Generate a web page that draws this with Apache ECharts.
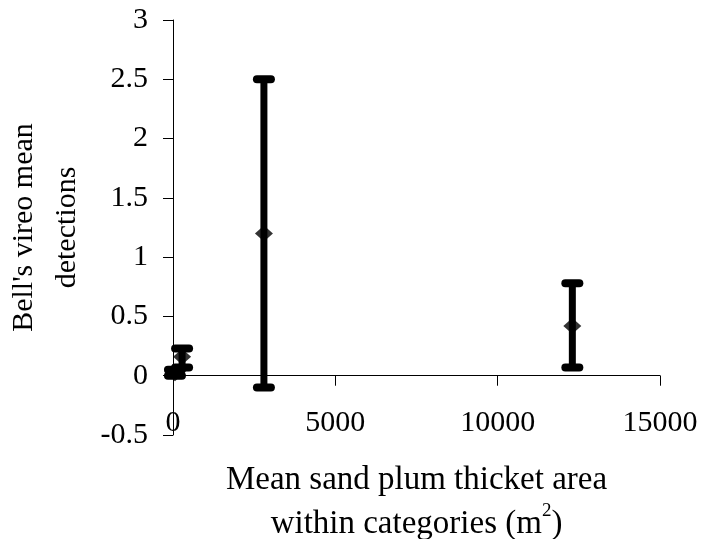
<!DOCTYPE html>
<html>
<head>
<meta charset="utf-8">
<script src="https://cdn.jsdelivr.net/npm/echarts@6/dist/echarts.min.js"></script>
<style>html,body{margin:0;padding:0;background:#fff}#c{width:702px;height:539px}</style>
</head>
<body>
<div id="c"></div>
<script>
var areaX = [60, 280, 2800, 12300];
var meanDet = [0.02, 0.16, 1.2, 0.42];
var lowErr = [0, 0.07, -0.1, 0.07];
var highErr = [0.05, 0.23, 2.5, 0.78];
var xTicks = [0, 5000, 10000, 15000];
var yTicks = [-0.5, 0, 0.5, 1, 1.5, 2, 2.5, 3];

var font = '"Liberation Serif", "Times New Roman", serif';
var chart = echarts.init(document.getElementById('c'));
var errData = areaX.map(function (x, i) { return [x, lowErr[i], highErr[i]]; });
var ptData = areaX.map(function (x, i) { return [x, meanDet[i]]; });

chart.setOption({
  animation: false,
  grid: { left: 173, right: 42, top: 20, bottom: 104, outerBoundsMode: 'none', containLabel: false },
  xAxis: {
    type: 'value', min: xTicks[0], max: xTicks[xTicks.length - 1], interval: 5000,
    axisLine: { onZero: true, lineStyle: { color: '#000', width: 1 } },
    axisTick: { show: true, inside: false, length: 10, lineStyle: { color: '#000' } },
    axisLabel: { color: '#000', fontFamily: font, fontSize: 30, margin: -27, formatter: function (v) { return String(v); } },
    splitLine: { show: false },
    name: 'Mean sand plum thicket area\nwithin categories (m{sup|2})',
    nameLocation: 'middle', nameGap: 23,
    nameTextStyle: { color: '#000', fontFamily: font, fontSize: 33, lineHeight: 44,
      rich: { sup: { fontSize: 19, fontFamily: font, color: '#000', verticalAlign: 'top', padding: [0, 0, 14, 0] } } }
  },
  yAxis: {
    type: 'value', min: yTicks[0], max: yTicks[yTicks.length - 1], interval: 0.5,
    axisLine: { show: true, lineStyle: { color: '#000', width: 1 } },
    axisTick: { show: true, inside: false, length: 10, lineStyle: { color: '#000' } },
    axisLabel: { color: '#000', fontFamily: font, fontSize: 30, margin: 25 },
    splitLine: { show: false },
    name: "Bell's vireo mean\ndetections",
    nameLocation: 'middle', nameGap: 84, nameRotate: 90,
    nameTextStyle: { color: '#000', fontFamily: font, fontSize: 30, lineHeight: 43 }
  },
  series: [
    {
      type: 'custom',
      data: errData,
      renderItem: function (params, api) {
        var x = api.value(0);
        var lo = api.coord([x, api.value(1)]);
        var hi = api.coord([x, api.value(2)]);
        var cw = 7;
        var st = { stroke: '#000', lineWidth: 8, lineCap: 'round' };
        return {
          type: 'group',
          children: [
            { type: 'line', shape: { x1: lo[0], y1: lo[1], x2: hi[0], y2: hi[1] }, style: { stroke: '#000', lineWidth: 7 } },
            { type: 'line', shape: { x1: lo[0] - cw, y1: lo[1], x2: lo[0] + cw, y2: lo[1] }, style: st },
            { type: 'line', shape: { x1: hi[0] - cw, y1: hi[1], x2: hi[0] + cw, y2: hi[1] }, style: st }
          ]
        };
      },
      z: 2
    },
    {
      type: 'scatter',
      data: ptData,
      symbol: 'diamond',
      symbolSize: [18, 16],
      itemStyle: { color: '#000' },
      z: 3
    }
  ]
});
</script>
</body>
</html>
